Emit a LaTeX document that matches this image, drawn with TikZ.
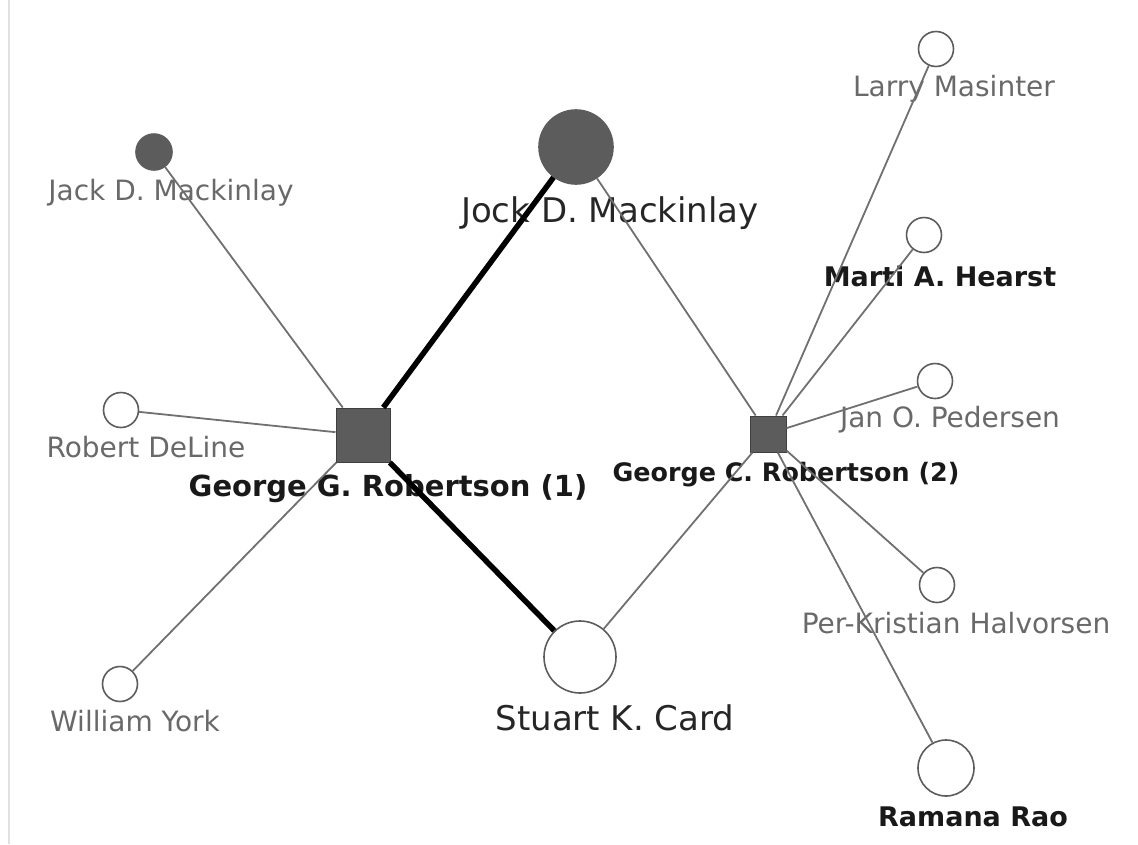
\documentclass[tikz,border=0pt]{standalone}
\usepackage{fontspec}
\setmainfont{DejaVu Sans}
\usepackage{tikz}
\usetikzlibrary{positioning}
\usepackage{xcolor}
\definecolor{nodegray}{RGB}{92,92,92}
\definecolor{edgegray}{RGB}{112,112,112}
\definecolor{labelgray}{RGB}{105,105,105}
\definecolor{framegray}{RGB}{225,225,225}
\tikzstyle{author} = [circle, draw=nodegray, line width=1.6pt, fill=white, inner sep=0pt]
\tikzstyle{darkauthor} = [author, fill=nodegray]
\tikzstyle{paper} = [rectangle, draw=black!75, line width=1pt, fill=nodegray, inner sep=0pt]
\tikzstyle{link} = [draw=edgegray, line width=1.8pt]
\tikzstyle{strong} = [draw=black, line width=5.5pt]
\tikzstyle{plainlabel} = [anchor=base, inner sep=0pt, text=labelgray, font=\fontsize{28}{30}\selectfont]
\tikzstyle{boldlabel} = [anchor=base, inner sep=0pt, text=black!90, font=\bfseries\fontsize{27}{30}\selectfont]
\tikzstyle{biglabel} = [anchor=base, inner sep=0pt, text=black!85, font=\fontsize{34}{36}\selectfont]

\begin{document}
\begin{tikzpicture}[x=1pt, y=-1pt]
\useasboundingbox (0,0) rectangle (1138,844);
\draw[framegray, line width=1.5pt] (9,0) -- (9,844);

% Labels
\node[plainlabel] (ljack) at (171,200) {Jack D. Mackinlay};
\node[biglabel] (ljock) at (610,222) {Jock D. Mackinlay};
\node[plainlabel] (lrobert) at (146,457) {Robert DeLine};
\node[boldlabel, font=\bfseries\fontsize{29}{30}\selectfont] (lggr) at (388,496) {George G. Robertson (1)};
\node[plainlabel] (lwilliam) at (135,731) {William York};
\node[biglabel] (lstuart) at (615,730) {Stuart K. Card};
\node[boldlabel, font=\bfseries\fontsize{25.4}{30}\selectfont] (lgcr) at (786,481) {George C. Robertson (2)};
\node[plainlabel] (llarry) at (954,96) {Larry Masinter};
\node[boldlabel] (lmarti) at (940,286) {Marti A. Hearst};
\node[plainlabel] (ljan) at (950,427) {Jan O. Pedersen};
\node[plainlabel] (lper) at (956,633) {Per-Kristian Halvorsen};
\node[boldlabel] (lramana) at (973,826) {Ramana Rao};

% Authors
\node[darkauthor, minimum size=36pt] (jack) at (154,152) {};
\node[darkauthor, minimum size=74pt] (jock) at (576,147) {};
\node[author, minimum size=35pt] (robert) at (121,410) {};
\node[author, minimum size=35pt] (william) at (120,684) {};
\node[author, minimum size=72pt] (stuart) at (580,657) {};
\node[author, minimum size=35pt] (larry) at (936,49) {};
\node[author, minimum size=35pt] (marti) at (924,235) {};
\node[author, minimum size=35pt] (jan) at (935,381) {};
\node[author, minimum size=35pt] (per) at (937,585) {};
\node[author, minimum size=56pt] (ramana) at (946,768) {};

% Robertson entries
\node[paper, minimum size=54pt] (ggr) at (363,435) {};
\node[paper, minimum size=36pt] (gcr) at (768,434) {};

% Links
\draw[link] (ggr) -- (jack);
\draw[link] (ggr) -- (robert);
\draw[link] (ggr) -- (william);
\draw[strong] (ggr) -- (jock);
\draw[strong] (ggr) -- (stuart);
\draw[link] (gcr) -- (jock);
\draw[link] (gcr) -- (stuart);
\draw[link] (gcr) -- (larry);
\draw[link] (gcr) -- (marti);
\draw[link] (gcr) -- (jan);
\draw[link] (gcr) -- (per);
\draw[link] (gcr) -- (ramana);
\end{tikzpicture}
\end{document}
